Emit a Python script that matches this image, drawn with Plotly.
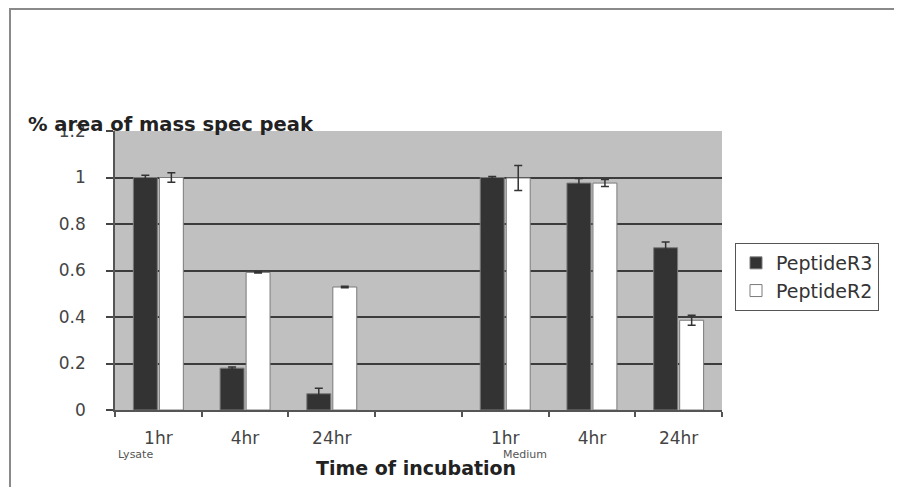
import plotly.graph_objects as go

# ---- data ----
categories = ["1hr", "4hr", "24hr", "", "1hr", "4hr", "24hr"]
positions = [0, 1, 2, 3, 4, 5, 6]
r3_values = [1.00, 0.18, 0.07, None, 1.00, 0.976, 0.698]
r3_errors = [0.01, 0.005, 0.024, None, 0.004, 0.02, 0.025]
r2_values = [1.00, 0.592, 0.529, None, 0.998, 0.976, 0.386]
r2_errors = [0.02, 0.003, 0.003, None, 0.054, 0.015, 0.022]
y_ticks = [0, 0.2, 0.4, 0.6, 0.8, 1, 1.2]
y_tick_text = ["0", "0.2", "0.4", "0.6", "0.8", "1", "1.2"]

FONT = "DejaVu Sans, Arial, sans-serif"
OFF = 8  # page body margin
# target screen positions of plot area
SX0, SX1, SY0, SY1 = 115, 722, 131, 410
W, H = 902 - 2 * OFF, 495 - 2 * OFF
L = SX0 - OFF
T = SY0 - OFF
R = W - (SX1 - OFF)
B = H - (SY1 - OFF)
pw = W - L - R
ph = H - T - B

def px_to_paper_x(sx):
    return (sx - SX0) / pw

def px_to_paper_y(sy):
    return (SY1 - sy) / ph

fig = go.Figure()
fig.add_trace(go.Bar(
    x=positions, y=r3_values, name="PeptideR3",
    marker=dict(color="#333333", line=dict(color="#7a7a7a", width=1)),
    error_y=dict(type="data", array=r3_errors, color="#333333", thickness=1.5, width=4),
))
fig.add_trace(go.Bar(
    x=positions, y=r2_values, name="PeptideR2",
    marker=dict(color="#ffffff", line=dict(color="#7a7a7a", width=1)),
    error_y=dict(type="data", array=r2_errors, color="#333333", thickness=1.5, width=4),
))

fig.update_layout(
    width=W, height=H,
    margin=dict(l=L, r=R, t=T, b=B),
    paper_bgcolor="white",
    plot_bgcolor="#c0c0c0",
    barmode="group",
    bargap=0.4,
    bargroupgap=0.08,
    font=dict(family=FONT, color="#444444", size=17),
    showlegend=True,
    legend=dict(
        x=px_to_paper_x(735), y=px_to_paper_y(243), xanchor="left", yanchor="top",
        bordercolor="#555555", borderwidth=1, bgcolor="white",
        font=dict(family=FONT, size=19, color="#333333"),
        tracegroupgap=0, itemwidth=30,
    ),
    xaxis=dict(
        range=[-0.5, 6.5],
        tickvals=positions, ticktext=categories,
        ticks="", showgrid=False, zeroline=False,
        showline=True, linecolor="#555555", linewidth=1.5,
        tickfont=dict(family=FONT, size=17, color="#444444"),
        ticklabelstandoff=12,
        minor=dict(tickvals=[-0.5, 0.5, 1.5, 2.5, 3.5, 4.5, 5.5, 6.5],
                   ticks="outside", ticklen=5, tickcolor="#555555", tickwidth=1.5,
                   showgrid=False),
    ),
    yaxis=dict(
        range=[0, 1.2],
        tickvals=y_ticks, ticktext=y_tick_text,
        ticks="outside", ticklen=7, tickcolor="#444444", tickwidth=1.5,
        showgrid=False, zeroline=False,
        showline=True, linecolor="#555555", linewidth=1.5,
        tickfont=dict(family=FONT, size=17, color="#444444"),
        ticklabelstandoff=17,
        minor=dict(tickvals=[0.2, 0.4, 0.6, 0.8, 1.0], showgrid=True,
                   gridcolor="#3c3c3c", gridwidth=1.5, ticks=""),
    ),
)

# outer frame
fig.add_shape(type="rect", xref="paper", yref="paper",
              x0=px_to_paper_x(10), x1=px_to_paper_x(1000),
              y0=px_to_paper_y(600), y1=px_to_paper_y(9),
              line=dict(color="#8a8a8a", width=2), fillcolor="rgba(0,0,0,0)", layer="below")

# titles and sub-labels
fig.add_annotation(text="<b>% area of mass spec peak</b>", xref="paper", yref="paper",
                   x=px_to_paper_x(26), y=px_to_paper_y(124), xanchor="left", yanchor="middle",
                   showarrow=False, font=dict(family=FONT, size=19.5, color="#222222"))
fig.add_annotation(text="<b>Time of incubation</b>", xref="paper", yref="paper",
                   x=px_to_paper_x(416), y=px_to_paper_y(468), xanchor="center", yanchor="middle",
                   showarrow=False, font=dict(family=FONT, size=19, color="#222222"))
fig.add_annotation(text="Lysate", xref="paper", yref="paper",
                   x=px_to_paper_x(135), y=px_to_paper_y(454), xanchor="center", yanchor="middle",
                   showarrow=False, font=dict(family=FONT, size=11, color="#555555"))
fig.add_annotation(text="Medium", xref="paper", yref="paper",
                   x=px_to_paper_x(525), y=px_to_paper_y(454), xanchor="center", yanchor="middle",
                   showarrow=False, font=dict(family=FONT, size=11, color="#555555"))

fig.write_html("out.html")
